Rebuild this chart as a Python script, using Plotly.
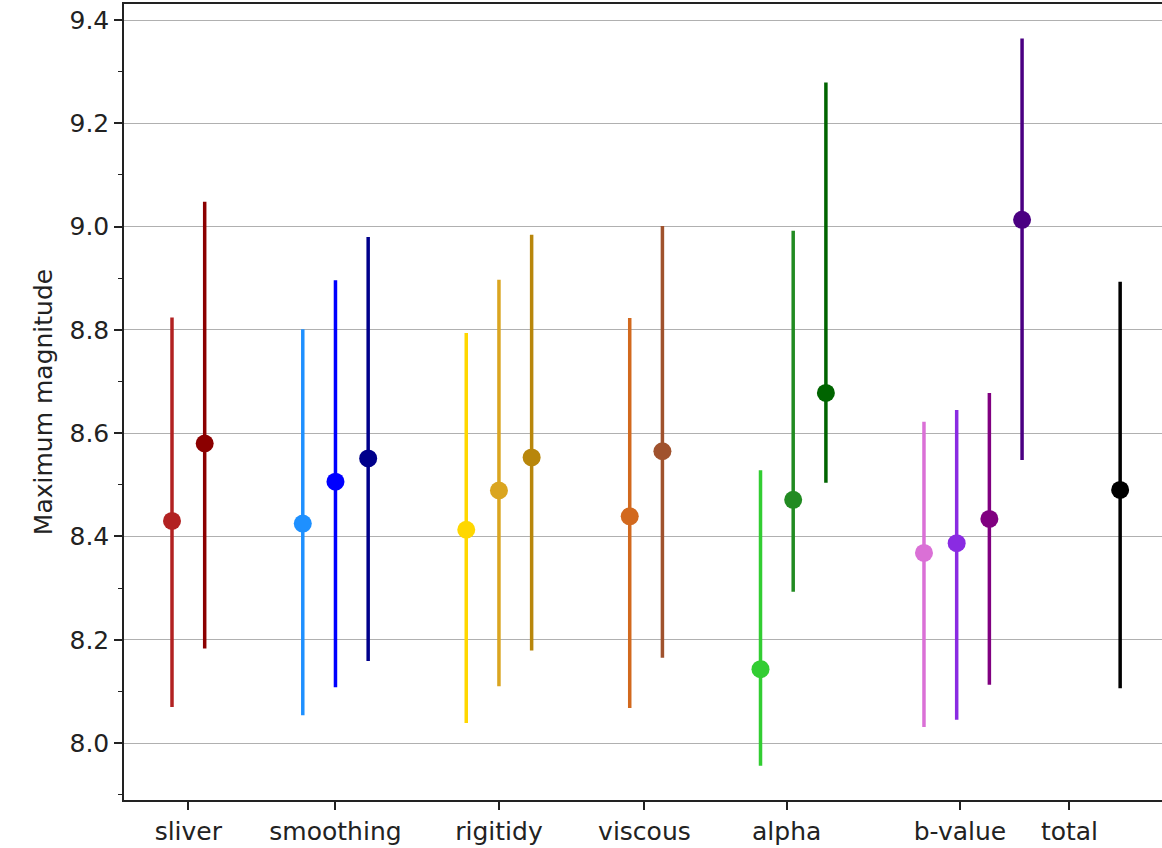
import plotly.graph_objects as go

# Category labels on the x axis and where their ticks sit
groups = ["sliver", "smoothing", "rigitidy", "viscous", "alpha", "b-value", "total"]
group_ticks = [0.5, 5.0, 10.0, 14.45, 18.8, 24.1, 27.45]

# One entry per model: x slot, central estimate, lower and upper bound
x_pos = [0, 1, 4, 5, 6, 9, 10, 11, 14, 15, 18, 19, 20, 23, 24, 25, 26, 29]
mid = [8.430, 8.580, 8.425, 8.506, 8.551, 8.413, 8.489, 8.553, 8.439, 8.565,
       8.143, 8.471, 8.678, 8.368, 8.387, 8.434, 9.013, 8.490]
low = [8.070, 8.183, 8.054, 8.108, 8.159, 8.039, 8.110, 8.179, 8.068, 8.165,
       7.956, 8.293, 8.504, 8.031, 8.045, 8.113, 8.548, 8.106]
high = [8.824, 9.048, 8.801, 8.896, 8.980, 8.794, 8.897, 8.984, 8.823, 9.001,
        8.528, 8.992, 9.279, 8.622, 8.645, 8.678, 9.364, 8.893]
colors = ["#b22222", "#8b0000",
          "#1e90ff", "#0000ff", "#00008b",
          "#ffd700", "#daa520", "#b8860b",
          "#d2691e", "#a0522d",
          "#32cd32", "#228b22", "#006400",
          "#da70d6", "#8a2be2", "#800080", "#4b0082",
          "#000000"]

fig = go.Figure()
for x, m, lo, hi, c in zip(x_pos, mid, low, high, colors):
    fig.add_trace(go.Scatter(
        x=[x], y=[m], mode="markers",
        marker=dict(color=c, size=18, line=dict(width=0)),
        error_y=dict(type="data", symmetric=False,
                     array=[hi - m], arrayminus=[m - lo],
                     color=c, thickness=3.5, width=0),
        showlegend=False,
    ))

font = dict(family="DejaVu Sans", size=25, color="#222222")

fig.update_layout(
    width=1162, height=848,
    margin=dict(l=124, r=0, t=4, b=48),
    paper_bgcolor="white", plot_bgcolor="white",
    font=font,
    xaxis=dict(
        range=[-1.468, 30.28],
        tickmode="array", tickvals=group_ticks, ticktext=groups,
        ticks="outside", ticklen=8, tickwidth=1.5, tickcolor="#222222",
        showline=True, linecolor="#222222", linewidth=1.5, mirror=True,
        showgrid=False, zeroline=False, tickfont=font,
    ),
    yaxis=dict(
        range=[7.8897, 9.431],
        tickmode="array", tickvals=[8.0, 8.2, 8.4, 8.6, 8.8, 9.0, 9.2, 9.4],
        ticktext=["8.0", "8.2", "8.4", "8.6", "8.8", "9.0", "9.2", "9.4"],
        ticks="outside", ticklen=8, tickwidth=1.5, tickcolor="#222222",
        minor=dict(tickmode="array",
                   tickvals=[7.9, 8.1, 8.3, 8.5, 8.7, 8.9, 9.1, 9.3],
                   ticks="outside", ticklen=4, tickwidth=1.2,
                   tickcolor="#222222", showgrid=False),
        showline=True, linecolor="#222222", linewidth=1.5,
        showgrid=True, gridcolor="#b0b0b0", gridwidth=1.2,
        zeroline=False, tickfont=font,
        title=dict(text="Maximum magnitude", font=font, standoff=10),
    ),
)

fig.write_html("out.html")
